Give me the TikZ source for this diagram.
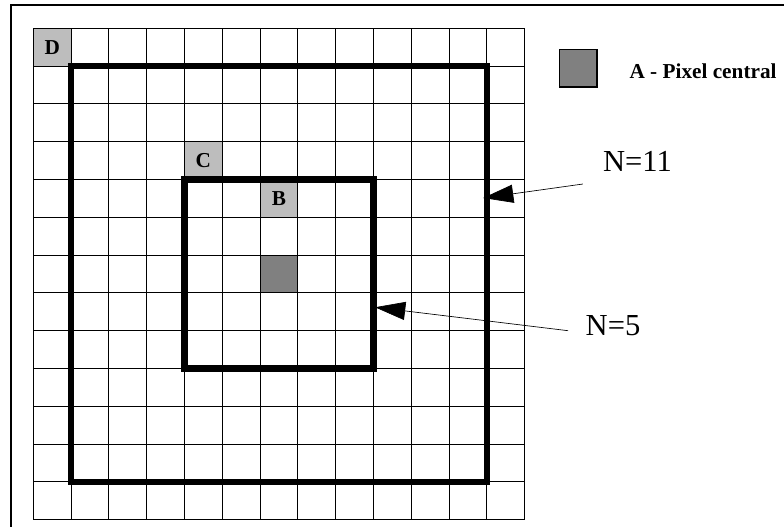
\documentclass[tikz,border=0pt]{standalone}
\usepackage{fontspec}
\setmainfont{Liberation Serif}
\usetikzlibrary{arrows.meta}
\definecolor{hellgrau}{HTML}{BDBDBD}
\definecolor{dunkelgrau}{HTML}{808080}

\begin{document}
\begin{tikzpicture}
		
		\useasboundingbox (-0.881,-0.192) rectangle (19.86,13.749);
		
		% Rahmen
		\draw[line width=0.8pt] (-0.59,-0.5) -- (-0.59,13.616) -- (20,13.616);
		
		% Graue Pixel
		\fill[hellgrau] (0,12) rectangle (1,13);
		\fill[hellgrau] (4,9) rectangle (5,10);
		\fill[hellgrau] (6,8) rectangle (7,9);
		\fill[dunkelgrau] (6,6) rectangle (7,7);
		
		% Gitter 13x13
		\draw[line width=0.8pt] (0,0) grid (13,13);
		
		% Fenster N=11 und N=5
		\draw[line width=5pt] (1,1) rectangle (12,12);
		\draw[line width=5pt] (4,4) rectangle (9,9);
		
		% Buchstaben
		\node[font=\bfseries\fontsize{16}{16}\selectfont] (D) at (0.5,12.5) {D};
		\node[font=\bfseries\fontsize{16}{16}\selectfont] (C) at (4.5,9.5) {C};
		\node[font=\bfseries\fontsize{16}{16}\selectfont] (B) at (6.5,8.5) {B};
		
		% Legende
		\node[draw, line width=1.2pt, fill=dunkelgrau, minimum size=1cm, inner sep=0pt] (A) at (14.42,11.94) {};
		\node[anchor=base west, font=\bfseries\fontsize{16}{16}\selectfont] (Atext) at (15.65,11.677) {A - Pixel central};
		
		% Pfeile
		\node[anchor=base west, font=\fontsize{23}{23}\selectfont] (N11) at (14.95,9.206) {N=11};
		\node[anchor=base west, font=\fontsize{23}{23}\selectfont] (N5) at (14.49,4.868) {N=5};
		\coordinate (s11) at (14.54,8.881);
		\coordinate (e11) at (11.9,8.511);
		\coordinate (s5) at (14.15,5.0);
		\coordinate (e5) at (9.04,5.62);
		\draw[line width=0.5pt, -{Triangle[length=0.8cm,width=0.48cm]}] (s11) -- (e11);
		\draw[line width=0.5pt, -{Triangle[length=0.8cm,width=0.48cm]}] (s5) -- (e5);
		
	\end{tikzpicture}
\end{document}
